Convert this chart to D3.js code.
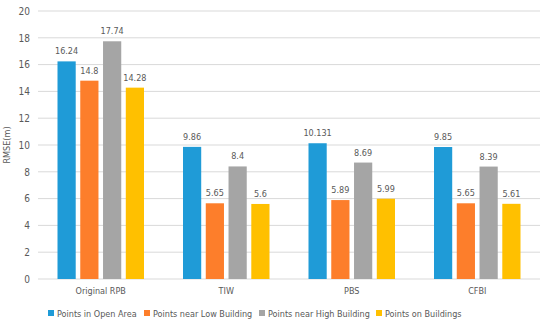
<!DOCTYPE html>
<html>
<head>
<meta charset="utf-8">
<script src="https://cdn.jsdelivr.net/npm/d3@7"></script>
<style>
  body { margin: 0; background: #fff; }
  svg text { font-family: "DejaVu Sans Condensed", sans-serif; fill: #595959; }
</style>
</head>
<body>
<div class="chart"></div>
<script>
const groups = ["Original RPB", "TIW", "PBS", "CFBI"];
const seriesNames = ["Points in Open Area", "Points near Low Building", "Points near High Building", "Points on Buildings"];
const openArea = [16.24, 9.86, 10.131, 9.85];
const lowBuilding = [14.8, 5.65, 5.89, 5.65];
const highBuilding = [17.74, 8.4, 8.69, 8.39];
const onBuildings = [14.28, 5.6, 5.99, 5.61];
const yTicks = [0, 2, 4, 6, 8, 10, 12, 14, 16, 18, 20];
const colors = ["#1f9bd7", "#fd7e2b", "#a5a5a5", "#ffc000"];

const seriesValues = [openArea, lowBuilding, highBuilding, onBuildings];

const width = 550;
const height = 324;
const plotLeft = 38;
const plotRight = 540;
const plotTop = 11;
const plotBottom = 279;
const fontSize = "9px";

const svg = d3.select(".chart")
  .append("svg")
  .attr("width", width)
  .attr("height", height);

const x0 = d3.scaleBand().domain(groups).range([plotLeft, plotRight]);
const x1 = d3.scaleBand()
  .domain(d3.range(seriesNames.length))
  .range([19.5, x0.bandwidth() - 19.5])
  .paddingInner(0.2);
const y = d3.scaleLinear().domain([0, 20]).range([plotBottom, plotTop]);

// grid lines
svg.append("g")
  .selectAll("line")
  .data(yTicks)
  .enter()
  .append("line")
  .attr("x1", plotLeft)
  .attr("x2", plotRight)
  .attr("y1", d => y(d))
  .attr("y2", d => y(d))
  .attr("stroke", "#d9d9d9")
  .attr("stroke-width", 1);

// y axis labels
const yAxis = svg.append("g")
  .attr("transform", `translate(${plotLeft - 8},0)`)
  .call(d3.axisLeft(y).tickValues(yTicks).tickSize(0).tickPadding(0));
yAxis.select(".domain").remove();
yAxis.selectAll("text").style("font-size", "10px").attr("fill", "#595959");

svg.append("text")
  .attr("transform", `translate(10,${(plotTop + plotBottom) / 2}) rotate(-90)`)
  .attr("text-anchor", "middle")
  .style("font-size", fontSize)
  .text("RMSE(m)");

// x axis labels
const xAxis = svg.append("g")
  .attr("transform", `translate(0,${plotBottom})`)
  .call(d3.axisBottom(x0).tickSize(0).tickPadding(9));
xAxis.select(".domain").remove();
xAxis.selectAll("text").style("font-size", fontSize).attr("fill", "#595959");

// bars
const groupG = svg.selectAll(".group")
  .data(groups)
  .enter()
  .append("g")
  .attr("class", "group")
  .attr("transform", d => `translate(${x0(d)},0)`);

groupG.selectAll("rect")
  .data((g, gi) => seriesValues.map((vals, si) => ({ si, v: vals[gi] })))
  .enter()
  .append("rect")
  .attr("x", d => x1(d.si))
  .attr("width", x1.bandwidth())
  .attr("y", d => y(d.v))
  .attr("height", d => y(0) - y(d.v))
  .attr("fill", d => colors[d.si]);

groupG.selectAll(".val")
  .data((g, gi) => seriesValues.map((vals, si) => ({ si, v: vals[gi] })))
  .enter()
  .append("text")
  .attr("class", "val")
  .attr("x", d => x1(d.si) + x1.bandwidth() / 2)
  .attr("y", d => y(d.v) - 7)
  .attr("text-anchor", "middle")
  .style("font-size", fontSize)
  .text(d => d.v);

// legend
const legendX = [48, 144, 259, 376];
const legend = svg.selectAll(".legend")
  .data(seriesNames)
  .enter()
  .append("g")
  .attr("class", "legend")
  .attr("transform", (d, i) => `translate(${legendX[i]},314)`);

legend.append("rect")
  .attr("x", 0)
  .attr("y", -4)
  .attr("width", 6)
  .attr("height", 6)
  .attr("fill", (d, i) => colors[i]);

legend.append("text")
  .attr("x", 9)
  .attr("y", 0)
  .attr("dy", "0.32em")
  .style("font-size", fontSize)
  .text(d => d);
</script>
</body>
</html>
